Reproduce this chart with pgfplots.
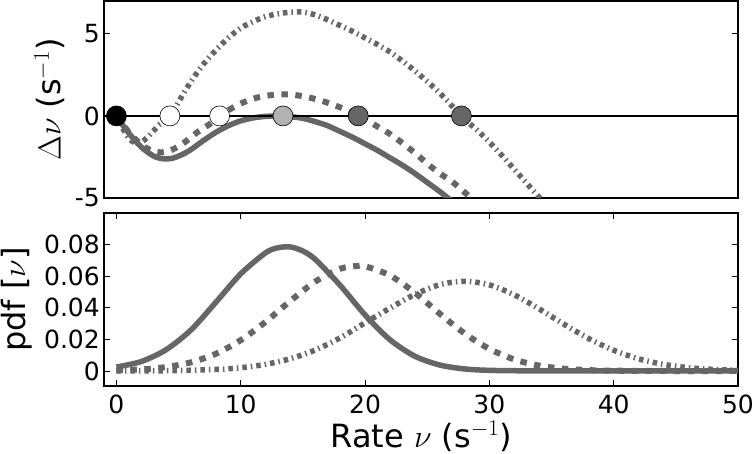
\RequirePackage{fix-cm}
\documentclass[border=0pt]{standalone}
\usepackage{fontspec}
\setmainfont{DejaVu Sans}
\usepackage{pgfplots}
\pgfplotsset{compat=1.18}

\definecolor{ln}{gray}{0.4}
\definecolor{lightc}{gray}{0.7}
\definecolor{darkc}{gray}{0.4}

\pgfplotsset{
  panel/.style={
    scale only axis, width=634pt,
    xmin=-1, xmax=50,
    axis line style={line width=1.4pt},
    major tick length=6pt,
    tick style={black, line width=0.9pt},
    tick label style={font=\fontsize{25}{30}\selectfont},
    /pgf/number format/assume math mode=true,
    yticklabel style={inner sep=0pt, xshift=-4pt},
    xticklabel style={inner sep=0pt, yshift=-9pt},
    label style={font=\fontsize{32}{38}\selectfont, inner sep=0pt},
  },
  solidc/.style={ln, line width=5.5pt, smooth, no markers},
  dashc/.style={ln, line width=6pt, smooth, no markers, dash pattern=on 6.5pt off 7.5pt},
  dotc/.style={ln, line width=5.5pt, smooth, no markers, dash pattern=on 4.5pt off 4pt on 1.5pt off 4pt},
  dot/.style={only marks, mark=*, mark size=10pt, mark options={draw=black, line width=0.6pt, fill=#1}},
}

\begin{document}
\begin{tikzpicture}
% upper panel: drift of the rate
\begin{axis}[panel, name=top, height=197pt,
  ymin=-5, ymax=7,
  xtick=\empty,
  ytick={-5,0,5}, yticklabels={-5,0,5},
  ylabel={$\Delta\nu$ (s$^{-1}$)},
  ylabel style={at={(axis description cs:-0.0615,0.5)}, anchor=south},
]
\addplot[dotc] coordinates {
  (0,0) (0.5,-0.75) (1,-1.35) (1.5,-1.65) (2,-1.6) (2.5,-1.3) (3,-0.9) (3.5,-0.5)
  (4,-0.3) (4.5,0.2) (5,0.85) (5.5,1.5) (6,2.1) (6.5,2.65) (7,3.15) (7.5,3.6)
  (8,4.0) (9,4.75) (10,5.35) (11,5.75) (12,6.05) (13,6.22) (14,6.32) (15,6.32)
  (16,6.15) (17,5.85) (18,5.5) (19,5.15) (20,4.75) (21,4.35) (22,3.9) (23,3.35)
  (24,2.75) (25,2.1) (26,1.4) (27,0.6) (28,-0.2) (29,-0.85) (30,-1.6) (31,-2.4)
  (32,-3.25) (33,-4.1) (34,-4.95) (35,-5.8)
};
\addplot[dashc] coordinates {
  (0,0) (0.5,-0.5) (1,-1.0) (1.5,-1.4) (2,-1.75) (2.5,-2.0) (3,-2.15) (3.5,-2.22)
  (4,-2.18) (4.5,-2.05) (5,-1.85) (5.5,-1.6) (6,-1.3) (6.5,-1.0) (7,-0.75)
  (7.5,-0.5) (8,-0.2) (8.5,0.1) (9,0.35) (10,0.75) (11,1.05) (12,1.22) (13,1.3)
  (14,1.3) (15,1.2) (16,1.03) (17,0.8) (18,0.52) (19,0.18) (20,-0.2) (21,-0.65)
  (22,-1.1) (23,-1.65) (24,-2.25) (25,-2.9) (26,-3.5) (27,-4.0) (28,-4.65)
  (29,-5.3) (30,-6)
};
\addplot[solidc] coordinates {
  (0,0) (0.5,-0.55) (1,-1.05) (1.5,-1.5) (2,-1.9) (2.5,-2.2) (3,-2.45) (3.5,-2.58)
  (4,-2.62) (4.5,-2.58) (5,-2.45) (5.5,-2.27) (6,-2.05) (7,-1.5) (8,-1.0) (9,-0.6)
  (10,-0.3) (11,-0.12) (12,-0.03) (13,0) (13.5,0) (14,-0.04) (15,-0.15) (16,-0.35)
  (17,-0.6) (18,-0.95) (19,-1.3) (20,-1.7) (21,-2.1) (22,-2.55) (23,-3.0)
  (24,-3.5) (25,-4.05) (26,-4.6) (27,-5.2) (28,-5.8)
};
\addplot[black, line width=2.4pt] coordinates {(-1,0) (50,0)};
\addplot[dot=black] coordinates {(0,0)};
\addplot[dot=white] coordinates {(4.3,0) (8.3,0)};
\addplot[dot=lightc] coordinates {(13.4,0)};
\addplot[dot=darkc] coordinates {(19.45,0) (27.75,0)};
\end{axis}

% lower panel: rate distributions
\begin{axis}[panel, name=bot, height=173pt,
  at={(top.south west)}, anchor=north west, yshift=-15pt,
  ymin=-0.0095, ymax=0.1,
  xtick={0,10,20,30,40,50},
  ytick={0,0.02,0.04,0.06,0.08}, yticklabels={0,0.02,0.04,0.06,0.08},
  ylabel={pdf [$\nu$]},
  ylabel style={at={(axis description cs:-0.1136,0.5)}, anchor=south},
  xlabel={Rate $\nu$ (s$^{-1}$)},
  xlabel style={at={(axis description cs:0.5,0)}, anchor=south, yshift=-66pt},
]
\addplot[dotc] coordinates {
  (0,0) (4,0.00016) (8,0.00096) (10,0.00208) (12,0.0042) (14,0.0078) (16,0.0133)
  (18,0.021) (20,0.0305) (22,0.0398) (24,0.0484) (26,0.0546) (28,0.0568)
  (30,0.0545) (32,0.0482) (34,0.0393) (36,0.0296) (38,0.0205) (40,0.0131)
  (42,0.0077) (44,0.0042) (46,0.0021) (48,0.001) (50,0.0004)
};
\addplot[dashc] coordinates {
  (0,0.0004) (2,0.001) (4,0.0025) (6,0.0055) (8,0.0109) (10,0.0195) (12,0.0311)
  (14,0.0444) (16,0.0566) (18,0.0647) (19.4,0.0665) (20,0.0663) (22,0.0605)
  (24,0.0496) (26,0.0363) (28,0.0238) (30,0.014) (32,0.0073) (34,0.0034)
  (36,0.00145) (38,0.00055) (40,0.0002) (44,0) (50,0)
};
\addplot[solidc] coordinates {
  (0,0.0025) (2,0.006) (4,0.0135) (6,0.026) (8,0.0435) (10,0.0615) (12,0.0748)
  (13,0.078) (14,0.0785) (15,0.0759) (16,0.0706) (18,0.0542) (20,0.0355)
  (22,0.0198) (24,0.0094) (26,0.0038) (28,0.0013) (30,0.0004) (33,0.0001)
  (36,0) (50,0)
};
\end{axis}

\pgfresetboundingbox
\path ([shift={(-104pt,1pt)}]top.north west) rectangle ++(756pt,-454pt);
\end{tikzpicture}
\end{document}
